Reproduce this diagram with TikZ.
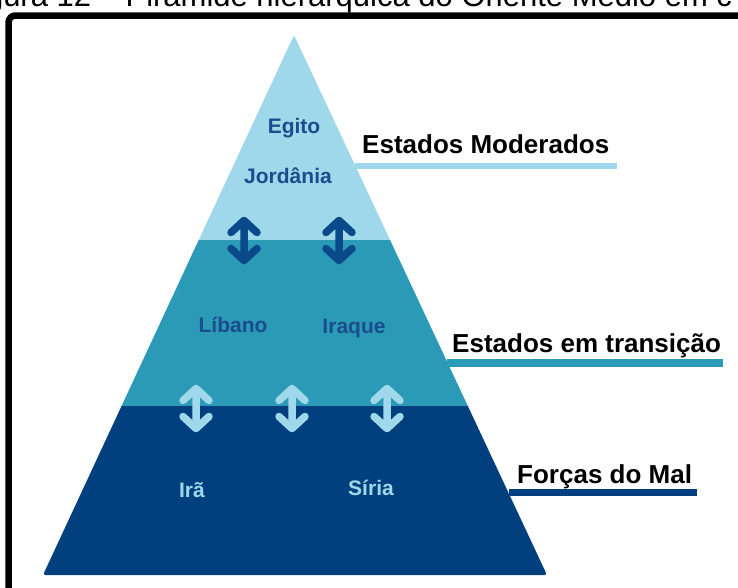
\documentclass[tikz,border=0pt]{standalone}
\usepackage{fontspec}
\setmainfont{Liberation Sans}
\definecolor{lightb}{HTML}{9ED8EA}
\definecolor{midb}{HTML}{2B9AB6}
\definecolor{darkb}{HTML}{023F7E}
\definecolor{arrowdark}{HTML}{0B4A8A}
\definecolor{labeldark}{HTML}{1B4C8C}
\begin{document}
\begin{tikzpicture}[x=1pt,y=-1pt,
  inlabel/.style={inner sep=0pt,font=\fontsize{21}{25}\selectfont\bfseries},
  sidelabel/.style={inner sep=0pt,anchor=base west,font=\fontsize{26}{30}\selectfont\bfseries,text=black},
  dblarr/.pic={
    \draw[line width=7.5pt,line cap=round,line join=round]
      (0,-20) -- (0,20)
      (-13,-8) -- (0,-20) -- (13,-8)
      (-13,8) -- (0,20) -- (13,8);
  }]
\useasboundingbox (0,0) rectangle (738,587);
\clip (0,0) rectangle (738,587);
% clipped caption at the top
\node[inner sep=0pt,anchor=base west,font=\fontsize{31}{36}\selectfont] (caption) at (-40,6)
  {Figura 12 – Pirâmide hierárquica do Oriente Médio em c};
% frame
\draw[line width=6.5pt,rounded corners=7pt] (8.5,600) -- (8.5,15.5) -- (760,15.5);
% pyramid
\begin{scope}
  \clip[rounded corners=2.5pt] (294,35) -- (547,575) -- (43,575) -- cycle;
  \fill[lightb] (0,30) rectangle (738,240);
  \fill[midb] (0,240) rectangle (738,406);
  \fill[darkb] (0,406) rectangle (738,580);
\end{scope}
% arrows
\pic[color=arrowdark] at (244,240.5) {dblarr};
\pic[color=arrowdark] at (339,240.5) {dblarr};
\pic[color=lightb] at (196,408.5) {dblarr};
\pic[color=lightb] at (292,408.5) {dblarr};
\pic[color=lightb] at (387,408.5) {dblarr};
% labels in pyramid
\node[inlabel,text=labeldark,anchor=base] (egito) at (294,133) {Egito};
\node[inlabel,text=labeldark,anchor=base] (jordania) at (288,183) {Jordânia};
\node[inlabel,text=labeldark,anchor=base] (libano) at (233,332) {Líbano};
\node[inlabel,text=labeldark,anchor=base] (iraque) at (354,333) {Iraque};
\node[inlabel,text=lightb,anchor=base] (ira) at (192,497) {Irã};
\node[inlabel,text=lightb,anchor=base] (siria) at (371,495) {Síria};
% side labels and bars
\node[sidelabel] (moderados) at (362,153) {Estados Moderados};
\fill[lightb] (355,163) rectangle (617,169);
\node[sidelabel] (transicao) at (452,352) {Estados em transição};
\fill[midb] (447,359) rectangle (723,367);
\node[sidelabel] (mal) at (517,483) {Forças do Mal};
\fill[darkb] (509,489) rectangle (697,496);
\end{tikzpicture}
\end{document}
